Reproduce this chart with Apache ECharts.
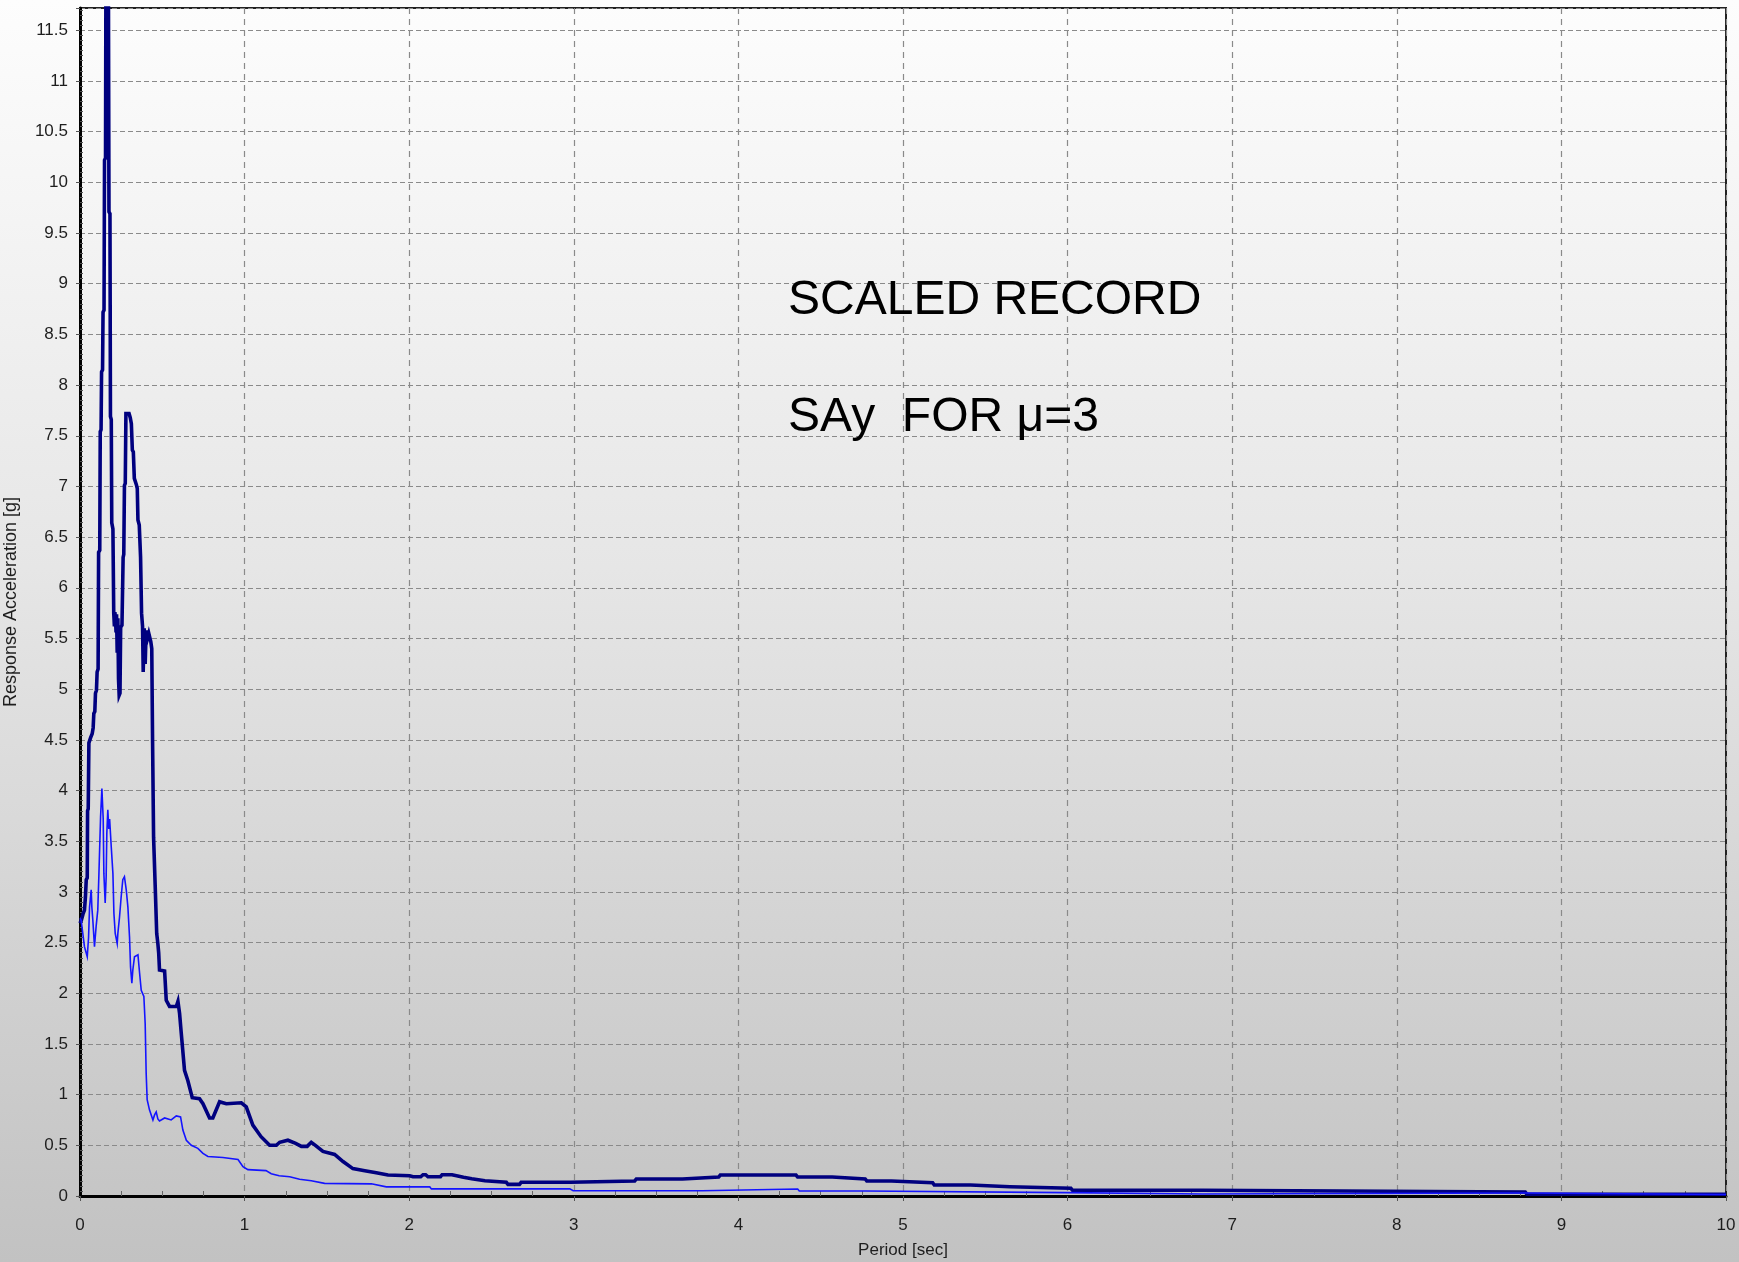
<!DOCTYPE html>
<html>
<head>
<meta charset="utf-8">
<script src="https://cdn.jsdelivr.net/npm/echarts@6/dist/echarts.min.js"></script>
<style>
  html, body { margin: 0; padding: 0; }
  #chart {
    width: 1739px; height: 1262px;
    background: linear-gradient(to bottom, #fdfdfd 0%, #e6e6e6 45%, #c2c2c2 100%);
  }
</style>
</head>
<body>
<div id="chart"></div>
<script>
// Response spectrum of the scaled record (thick curve): period [sec] / Sa [g]
const spectrumPeriod = [
  0.000, 0.008, 0.018, 0.027, 0.033, 0.038, 0.044, 0.046, 0.050, 0.054,
  0.064, 0.074, 0.080, 0.084, 0.090, 0.094, 0.100, 0.104, 0.110, 0.113,
  0.120, 0.123, 0.128, 0.131, 0.137, 0.140, 0.146, 0.149, 0.155, 0.158,
  0.172, 0.176, 0.182, 0.185, 0.190, 0.193, 0.200, 0.205, 0.209, 0.212,
  0.216, 0.219, 0.222, 0.226, 0.230, 0.234, 0.238, 0.243, 0.247, 0.255,
  0.262, 0.266, 0.270, 0.275, 0.279, 0.298, 0.305, 0.312, 0.318, 0.324,
  0.330, 0.342, 0.348, 0.352, 0.360, 0.368, 0.374, 0.380, 0.384, 0.390,
  0.396, 0.402, 0.410, 0.418, 0.430, 0.436, 0.441, 0.447, 0.457, 0.466,
  0.473, 0.478, 0.483, 0.514, 0.524, 0.544, 0.585, 0.595, 0.605, 0.615,
  0.635, 0.655, 0.682, 0.726, 0.747, 0.787, 0.807, 0.848, 0.868, 0.889,
  0.980, 1.010, 1.050, 1.100, 1.152, 1.193, 1.213, 1.263, 1.310, 1.345,
  1.380, 1.405, 1.430, 1.476, 1.547, 1.598, 1.658, 1.730, 1.800, 1.871,
  2.003, 2.023, 2.070, 2.084, 2.100, 2.114, 2.190, 2.200, 2.260, 2.270,
  2.330, 2.380, 2.460, 2.590, 2.600, 2.670, 2.680, 2.980, 2.990, 3.370,
  3.380, 3.660, 3.670, 3.880, 3.890, 4.350, 4.360, 4.570, 4.580, 4.770,
  4.780, 4.930, 4.940, 5.180, 5.190, 5.410, 5.420, 5.650, 5.660, 6.020,
  6.030, 6.820, 6.830, 8.780, 8.790, 10.000
];
const spectrumSa = [
  2.69, 2.72, 2.78, 2.82, 2.95, 3.12, 3.14, 3.80, 3.82, 4.47,
  4.52, 4.56, 4.62, 4.76, 4.78, 4.96, 4.99, 5.17, 5.20, 6.35,
  6.37, 7.54, 7.56, 8.13, 8.15, 8.72, 8.74, 10.22, 10.24, 12.40,
  12.40, 9.71, 9.69, 7.69, 7.66, 6.64, 6.58, 5.75, 5.62, 5.76,
  5.68, 5.56, 5.74, 5.36, 5.70, 5.10, 4.94, 4.96, 5.61, 5.63,
  6.30, 6.33, 7.01, 7.03, 7.72, 7.72, 7.68, 7.62, 7.36, 7.34,
  7.08, 7.02, 6.98, 6.67, 6.62, 6.30, 5.75, 5.62, 5.17, 5.60,
  5.25, 5.58, 5.50, 5.55, 5.47, 5.40, 4.47, 3.54, 3.05, 2.59,
  2.49, 2.40, 2.23, 2.22, 1.93, 1.87, 1.87, 1.92, 1.80, 1.61,
  1.24, 1.14, 0.97, 0.96, 0.91, 0.77, 0.77, 0.93, 0.92, 0.91,
  0.92, 0.88, 0.70, 0.585, 0.50, 0.50, 0.53, 0.55, 0.52, 0.49,
  0.49, 0.53, 0.50, 0.44, 0.41, 0.34, 0.27, 0.25, 0.23, 0.207,
  0.200, 0.190, 0.190, 0.210, 0.210, 0.190, 0.190, 0.210, 0.210, 0.200,
  0.185, 0.170, 0.150, 0.135, 0.115, 0.115, 0.135, 0.135, 0.148, 0.148,
  0.168, 0.168, 0.187, 0.187, 0.207, 0.207, 0.187, 0.187, 0.168, 0.168,
  0.148, 0.148, 0.131, 0.131, 0.108, 0.108, 0.092, 0.092, 0.076, 0.076,
  0.056, 0.056, 0.040, 0.040, 0.018, 0.018
];

// Yield spectrum SAy for mu = 3 (thin curve): period [sec] / Sa [g]
const yieldPeriod = [
  0.000, 0.007, 0.017, 0.027, 0.044, 0.052, 0.058, 0.068, 0.072, 0.078,
  0.088, 0.098, 0.108, 0.115, 0.125, 0.133, 0.141, 0.145, 0.153, 0.159,
  0.163, 0.169, 0.175, 0.180, 0.190, 0.200, 0.206, 0.214, 0.226, 0.230,
  0.240, 0.250, 0.260, 0.270, 0.281, 0.291, 0.301, 0.307, 0.315, 0.321,
  0.331, 0.352, 0.362, 0.372, 0.388, 0.396, 0.402, 0.408, 0.422, 0.443,
  0.453, 0.463, 0.473, 0.483, 0.514, 0.554, 0.585, 0.611, 0.625, 0.646,
  0.676, 0.716, 0.747, 0.777, 0.868, 0.960, 0.990, 1.020, 1.130, 1.162,
  1.210, 1.274, 1.334, 1.405, 1.486, 1.770, 1.861, 2.125, 2.135, 2.976,
  2.996, 3.780, 3.790, 4.360, 4.370, 4.770, 4.780, 5.990, 6.000, 6.820,
  6.830, 8.780, 8.790, 10.000
];
const yieldSa = [
  2.74, 2.72, 2.59, 2.46, 2.36, 2.55, 2.85, 3.02, 2.85, 2.72,
  2.46, 2.66, 2.82, 3.18, 3.74, 4.02, 3.72, 3.18, 2.89, 3.15,
  3.58, 3.81, 3.62, 3.72, 3.44, 3.18, 2.79, 2.59, 2.49, 2.59,
  2.75, 2.95, 3.12, 3.15, 3.02, 2.85, 2.55, 2.26, 2.10, 2.23,
  2.36, 2.38, 2.20, 2.03, 1.97, 1.70, 1.21, 0.95, 0.85, 0.75,
  0.80, 0.83, 0.76, 0.74, 0.77, 0.75, 0.79, 0.78, 0.65, 0.55,
  0.50, 0.47, 0.42, 0.39, 0.38, 0.36, 0.29, 0.26, 0.25, 0.22,
  0.20, 0.19, 0.165, 0.15, 0.125, 0.12, 0.09, 0.09, 0.07, 0.07,
  0.052, 0.052, 0.069, 0.069, 0.049, 0.049, 0.033, 0.033, 0.020, 0.020,
  0.030, 0.030, 0.015, 0.015
];

const xTickStep = 1;
const yTickStep = 0.5;
const yTop = 11.72;

const zip = (xs, ys) => xs.map((x, i) => [x, ys[i]]);

const fontFamily = 'Liberation Sans, Arial, sans-serif';
const labelFont = { fontFamily, fontSize: 17, color: '#1e1e1e' };
const gridDash = { color: '#8a8a8a', width: 1.2 };

const chart = echarts.init(document.getElementById('chart'), null, { renderer: 'canvas' });
chart.setOption({
  backgroundColor: 'transparent',
  animation: false,
  grid: {
    left: 80, right: 13, top: 8, bottom: 66,
    containLabel: false, outerBoundsMode: 'none',
    show: true, borderColor: '#222', borderWidth: 2, backgroundColor: 'transparent'
  },
  xAxis: {
    type: 'value', min: 0, max: 10, interval: xTickStep,
    name: 'Period [sec]', nameLocation: 'middle', nameGap: 46,
    nameTextStyle: { fontFamily, fontSize: 17, color: '#1e1e1e' },
    axisLine: { lineStyle: { color: '#000', width: 3 } },
    axisTick: { show: true, length: 5, lineStyle: { color: '#555' } },
    minorTick: { show: true, splitNumber: 4, length: -5, lineStyle: { color: '#666' } },
    axisLabel: Object.assign({ margin: 21 }, labelFont),
    splitLine: { show: true, lineStyle: Object.assign({ type: [6, 5] }, gridDash) }
  },
  yAxis: {
    type: 'value', min: 0, max: yTop, interval: yTickStep,
    name: 'Response Acceleration [g]', nameLocation: 'middle', nameGap: 60,
    nameTextStyle: { fontFamily, fontSize: 18, color: '#1e1e1e' },
    axisLine: { lineStyle: { color: '#000', width: 3 } },
    axisTick: { show: true, length: 4, lineStyle: { color: '#555' } },
    minorTick: { show: true, splitNumber: 10, length: -3, lineStyle: { color: '#555' } },
    axisLabel: Object.assign({ margin: 12, showMaxLabel: false }, labelFont),
    splitLine: { show: true, lineStyle: Object.assign({ type: [5, 3] }, gridDash) }
  },
  graphic: [
    {
      type: 'text', left: 788, top: 277, z: 10,
      style: { text: 'SCALED RECORD', fill: '#000', fontSize: 48,
               fontFamily, verticalAlign: 'middle' }
    },
    {
      type: 'text', left: 788, top: 394, z: 10,
      style: { text: 'SAy  FOR \u03bc=3', fill: '#000', fontSize: 48,
               fontFamily, verticalAlign: 'middle' }
    }
  ],
  series: [
    {
      type: 'line', name: 'Scaled record', data: zip(spectrumPeriod, spectrumSa),
      showSymbol: false, symbol: 'none', clip: true,
      lineStyle: { color: '#00007f', width: 3.6, join: 'miter' }
    },
    {
      type: 'line', name: 'SAy mu=3', data: zip(yieldPeriod, yieldSa),
      showSymbol: false, symbol: 'none', clip: true,
      lineStyle: { color: '#1414ff', width: 1.6, join: 'miter' }
    }
  ]
});
</script>
</body>
</html>
